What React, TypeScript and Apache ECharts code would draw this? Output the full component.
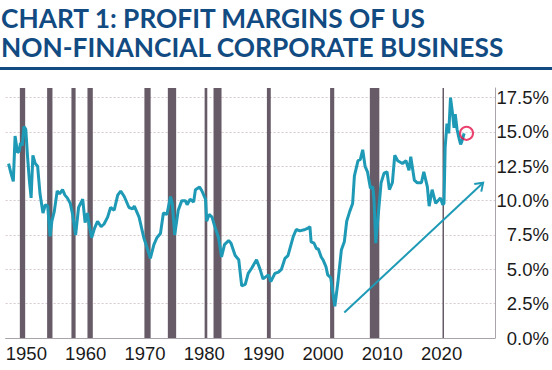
import React, { useEffect, useRef } from "react";
import * as echarts from "echarts";

const titleLines = ["CHART 1: PROFIT MARGINS OF US", "NON-FINANCIAL CORPORATE BUSINESS"];

const years = [
  1947.0, 1947.4, 1947.8, 1948.1, 1948.5, 1948.8, 1949.0, 1949.3, 1949.6, 1949.9,
  1950.2, 1950.5, 1950.8, 1951.1, 1951.5, 1951.9, 1952.3, 1952.8, 1953.2, 1953.6,
  1954.0, 1954.3, 1954.7, 1955.2, 1955.6, 1956.1, 1956.5, 1956.9, 1957.4, 1957.8,
  1958.3, 1958.8, 1959.5, 1959.9, 1960.3, 1960.6, 1961.0, 1961.5, 1962.0, 1962.6,
  1963.1, 1963.7, 1964.2, 1964.8, 1965.4, 1965.9, 1966.5, 1967.3, 1967.9, 1968.2,
  1969.0, 1969.8, 1970.4, 1970.9, 1971.5, 1972.0, 1972.6, 1973.1, 1973.7, 1974.3,
  1974.6, 1975.0, 1975.6, 1976.2, 1976.8, 1977.1, 1977.6, 1978.2, 1978.5, 1979.2,
  1979.6, 1980.2, 1980.4, 1980.8, 1981.3, 1981.7, 1982.4, 1982.9, 1983.4, 1984.1,
  1984.5, 1985.2, 1985.8, 1986.3, 1986.9, 1987.4, 1988.0, 1988.8, 1989.4, 1989.9,
  1990.8, 1991.2, 1991.9, 1992.5, 1993.0, 1993.6, 1994.1, 1995.0, 1995.5, 1996.1,
  1997.0, 1997.5, 1997.8, 1998.0, 1998.5, 1998.9, 1999.2, 1999.7, 2000.0, 2000.5,
  2000.8, 2001.3, 2002.0, 2002.5, 2003.1, 2003.6, 2004.0, 2004.5, 2005.0, 2005.3,
  2005.9, 2006.3, 2006.7, 2007.1, 2007.5, 2008.0, 2008.4, 2008.6, 2008.9, 2009.2,
  2009.8, 2010.3, 2010.8, 2011.2, 2011.7, 2012.1, 2012.6, 2013.4, 2014.0, 2014.5,
  2014.8, 2015.4, 2015.9, 2016.6, 2017.0, 2017.6, 2017.9, 2018.4, 2019.0, 2019.8,
  2020.2, 2020.4, 2020.6, 2020.9, 2021.2, 2021.5, 2021.8, 2022.1, 2022.3, 2022.6,
  2022.9, 2023.2, 2023.4, 2023.8,
];

const margins = [
  12.7, 12.0, 11.4, 14.7, 13.5, 13.6, 14.2, 14.0, 15.4, 15.2,
  13.2, 11.5, 10.2, 13.3, 12.7, 12.5, 10.5, 9.1, 9.7, 9.6,
  7.4, 8.5, 9.2, 10.7, 10.5, 10.8, 10.4, 10.2, 9.8, 9.0,
  7.5, 9.5, 10.1, 8.4, 9.1, 8.2, 7.3, 8.0, 8.5, 8.1,
  8.3, 8.8, 9.5, 9.3, 10.4, 10.7, 10.3, 9.5, 9.4, 9.6,
  8.8, 7.3, 6.5, 5.8, 6.8, 7.3, 7.6, 9.1, 9.0, 10.3,
  9.8, 7.5, 9.3, 10.0, 10.0, 9.7, 10.1, 9.9, 10.8, 11.0,
  10.7, 10.1, 8.5, 9.0, 8.8, 8.2, 7.3, 5.9, 6.8, 7.1,
  6.9, 6.0, 5.7, 3.8, 3.9, 4.7, 5.1, 5.7, 5.0, 4.3,
  4.6, 4.1, 4.7, 4.8, 5.0, 5.8, 6.0, 7.4, 7.9, 7.8,
  7.9, 8.0, 8.1, 7.0, 6.9, 6.5, 6.5, 5.9, 5.7, 5.2,
  4.6, 4.4, 2.3, 4.0, 6.4, 7.0, 8.5, 9.2, 9.8, 11.8,
  12.9, 13.0, 13.7, 12.5, 12.1, 10.9, 11.0, 10.1, 6.9, 8.4,
  11.3, 12.0, 12.1, 10.8, 11.3, 13.3, 12.9, 12.7, 12.9, 12.2,
  13.2, 11.5, 11.3, 11.3, 12.1, 11.0, 9.6, 10.8, 9.8, 10.2,
  9.7, 9.8, 13.9, 15.6, 14.9, 17.5, 16.5, 15.3, 16.3, 15.2,
  14.6, 14.1, 14.3, 14.9,
];

const recessionStart = [1948.9, 1953.5, 1957.6, 1960.3, 1969.9, 1973.85, 1980.05, 1981.55, 1990.55, 2001.2, 2007.9, 2020.15];
const recessionEnd = [1949.8, 1954.4, 1958.3, 1961.2, 1970.95, 1975.25, 1980.5, 1982.9, 1991.2, 2001.9, 2009.5, 2020.35];

const xTickYears = [1950, 1960, 1970, 1980, 1990, 2000, 2010, 2020];
const yTickValues = [0, 2.5, 5, 7.5, 10, 12.5, 15, 17.5];

// annotation: trend arrow [x0, y0, x1, y1] and highlighted latest point
const trendArrow = [2003.6, 1.85, 2027.0, 11.3];
const highlightPoint = [2024.2, 14.9];

const X_MIN = 1946.5;
const X_MAX = 2029;
const Y_MAX = 18.2;

const TEAL = "#1e9ab6";
const NAVY = "#124b82";
const LABEL_FONT = "'Liberation Sans', Arial, sans-serif";

export default function App() {
  const ref = useRef<HTMLDivElement>(null);

  useEffect(() => {
    document.body.style.margin = "0";
    const chart = echarts.init(ref.current!, null, { renderer: "svg" });

    const option: any = {
      animation: false,
      backgroundColor: "#ffffff",
      title: {
        text: titleLines.join("\n"),
        left: 1,
        top: 3,
        padding: 0,
        textStyle: {
          fontFamily: "Lato",
          fontWeight: "bold",
          fontSize: 26.3,
          lineHeight: 29,
          color: NAVY,
        },
      },
      graphic: [
        {
          type: "rect",
          left: 0,
          top: 67,
          shape: { x: 0, y: 0, width: 552, height: 3 },
          style: { fill: NAVY },
        },
      ],
      grid: { left: 5.6, right: 54, top: 88, bottom: 32, containLabel: false },
      xAxis: {
        type: "value",
        min: X_MIN,
        max: X_MAX,
        interval: 0.5,
        splitLine: { show: false },
        axisTick: { show: false },
        axisLine: { show: true, onZero: false, lineStyle: { color: "#a9a4aa", width: 1 } },
        axisLabel: {
          show: true,
          margin: 6,
          fontFamily: LABEL_FONT,
          fontSize: 18.5,
          color: "#1a1a1a",
          showMinLabel: false,
          showMaxLabel: false,
          formatter: (v: number) => {
            const r = Math.round(v);
            return Math.abs(v - r) < 1e-6 && xTickYears.includes(r) ? String(r) : "";
          },
        },
      },
      yAxis: {
        type: "value",
        position: "right",
        min: 0,
        max: Y_MAX,
        interval: 2.5,
        axisLine: { show: true, lineStyle: { color: "#a9a4aa", width: 1 } },
        axisTick: { show: false },
        splitLine: {
          show: true,
          showMinLine: false,
          showMaxLine: false,
          lineStyle: { color: "#d6c9cf", type: [2, 2], width: 1 },
        },
        axisLabel: {
          margin: 54,
          align: "right",
          fontFamily: LABEL_FONT,
          fontSize: 18.5,
          color: "#1a1a1a",
          showMaxLabel: false,
          formatter: (v: number) => {
            const hit = yTickValues.find((t) => Math.abs(t - v) < 1e-6);
            return hit === undefined ? "" : hit.toFixed(1) + "%";
          },
        },
      },
      series: [
        {
          type: "custom",
          name: "recessions",
          z: 1,
          silent: true,
          encode: { x: [0, 1] },
          data: recessionStart.map((s, i) => [s, recessionEnd[i]]),
          renderItem: (params: any, api: any) => {
            const p0 = api.coord([api.value(0), Y_MAX]);
            const p1 = api.coord([api.value(1), 0]);
            return {
              type: "rect",
              shape: { x: p0[0], y: p0[1], width: Math.max(p1[0] - p0[0], 1.5), height: p1[1] - p0[1] },
              style: { fill: "#675b67" },
            };
          },
        },
        {
          type: "line",
          name: "margin",
          z: 3,
          data: years.map((y, i) => [y, margins[i]]),
          showSymbol: false,
          symbol: "none",
          lineStyle: { color: TEAL, width: 3 },
          itemStyle: { color: TEAL },
        },
        {
          type: "custom",
          name: "trend",
          z: 4,
          silent: true,
          encode: { x: [0, 2], y: [1, 3] },
          data: [trendArrow],
          renderItem: (params: any, api: any) => {
            const a = api.coord([api.value(0), api.value(1)]);
            const b = api.coord([api.value(2), api.value(3)]);
            const ang = Math.atan2(a[1] - b[1], a[0] - b[0]);
            const len = 9;
            const spread = (35 * Math.PI) / 180;
            const h1 = [b[0] + len * Math.cos(ang + spread), b[1] + len * Math.sin(ang + spread)];
            const h2 = [b[0] + len * Math.cos(ang - spread), b[1] + len * Math.sin(ang - spread)];
            return {
              type: "group",
              children: [
                { type: "line", shape: { x1: a[0], y1: a[1], x2: b[0], y2: b[1] }, style: { stroke: TEAL, lineWidth: 2 } },
                { type: "polyline", shape: { points: [h1, b, h2] }, style: { stroke: TEAL, lineWidth: 2, fill: "none" } },
              ],
            };
          },
        },
        {
          type: "scatter",
          name: "latest",
          z: 5,
          silent: true,
          data: [highlightPoint],
          symbol: "circle",
          symbolSize: 13,
          itemStyle: { color: "rgba(0,0,0,0)", borderColor: "#e5124a", borderWidth: 2 },
        },
      ],
    };

    chart.setOption(option);
    return () => chart.dispose();
  }, []);

  return <div ref={ref} style={{ width: 552, height: 370 }} />;
}
